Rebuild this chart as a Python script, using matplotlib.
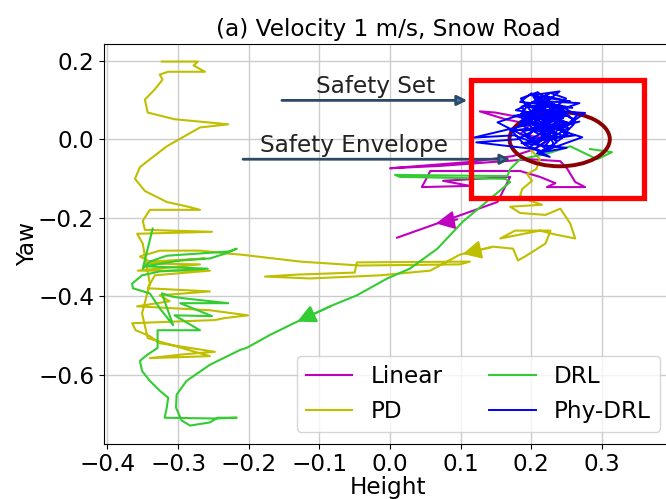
import matplotlib
matplotlib.use('Agg')
import matplotlib.pyplot as plt
from matplotlib.patches import Rectangle, Ellipse

# trajectories (height, yaw)
linear_x = [0.205, 0.184, 0.149, 0.127, 0.163, 0.198, 0.184, 0.227, 0.205, 0.174,
            0.113, 0.000, 0.071, 0.198, 0.241, 0.251, 0.262, 0.276, 0.222, 0.234,
            0.212, 0.184, 0.057, 0.045, 0.113, 0.075, 0.170, 0.152, 0.085, 0.010]
linear_y = [0.076, 0.056, 0.068, 0.071, 0.051, 0.038, 0.013, 0.000, -0.025, -0.043,
            -0.058, -0.074, -0.068, -0.051, -0.056, -0.076, -0.109, -0.122, -0.122, -0.112,
            -0.096, -0.081, -0.081, -0.122, -0.119, -0.106, -0.096, -0.160, -0.203, -0.251]

pd_x = [0.198, 0.212, 0.207, 0.194, 0.201, 0.187, 0.184, 0.198, 0.215, 0.170,
        0.184, 0.220, 0.241, 0.255, 0.262, 0.234, 0.212, 0.156, 0.177, 0.227,
        0.220, 0.191, 0.181, 0.174, 0.146, 0.099, 0.057, -0.014, -0.113, -0.177,
        -0.130, -0.050, -0.047, 0.113, 0.099, -0.042, -0.127, -0.212, -0.227,
        -0.269, -0.326, -0.354, -0.340, -0.262, -0.347, -0.269, -0.357, -0.255, -0.333,
        -0.343, -0.255, -0.326, -0.312, -0.358, -0.255, -0.201, -0.234, -0.248, -0.365,
        -0.360, -0.340, -0.326, -0.248, -0.290, -0.340, -0.255, -0.343,
        -0.351, -0.340, -0.350, -0.358, -0.252, -0.347, -0.350, -0.340, -0.269, -0.286,
        -0.316, -0.347, -0.361, -0.354, -0.316, -0.269, -0.229, -0.305, -0.343, -0.347,
        -0.333, -0.322, -0.326, -0.314, -0.262, -0.278, -0.272, -0.323]
pd_y = [-0.025, -0.051, -0.076, -0.089, -0.106, -0.127, -0.144, -0.157, -0.167, -0.172,
        -0.188, -0.193, -0.177, -0.215, -0.253, -0.243, -0.233, -0.253, -0.233, -0.233,
        -0.266, -0.299, -0.309, -0.279, -0.274, -0.294, -0.335, -0.347, -0.355, -0.350,
        -0.345, -0.340, -0.314, -0.312, -0.319, -0.322, -0.312, -0.294, -0.292,
        -0.284, -0.284, -0.299, -0.312, -0.304, -0.317, -0.319, -0.335, -0.335, -0.347,
        -0.380, -0.388, -0.398, -0.413, -0.426, -0.436, -0.449, -0.456, -0.461, -0.469,
        -0.487, -0.502, -0.520, -0.542, -0.548, -0.558, -0.553, -0.507,
        -0.444, -0.368, -0.266, -0.241, -0.236, -0.231, -0.208, -0.180, -0.180, -0.172,
        -0.160, -0.132, -0.101, -0.071, -0.018, 0.030, 0.038, 0.051, 0.068, 0.101,
        0.127, 0.152, 0.165, 0.172, 0.172, 0.188, 0.198, 0.198]

drl_x = [0.283, 0.314, 0.293, 0.255, 0.220, 0.184, 0.170, 0.166, 0.007, 0.014,
         0.163, 0.170, 0.113, 0.103, 0.067, 0.028, -0.004, -0.047, -0.081, -0.135,
         -0.170, -0.203, -0.212, -0.255, -0.288, -0.302, -0.303, -0.295, -0.283, -0.255,
         -0.244, -0.217, -0.248, -0.319, -0.316, -0.314, -0.326, -0.340, -0.351, -0.354,
         -0.344, -0.329, -0.329, -0.269, -0.305, -0.252, -0.297, -0.229, -0.290, -0.309,
         -0.323, -0.307, -0.326, -0.340, -0.364, -0.365, -0.351, -0.326, -0.258, -0.347,
         -0.297, -0.255, -0.234, -0.217, -0.227, -0.316, -0.340, -0.350, -0.336]
drl_y = [-0.025, -0.033, -0.051, -0.018, -0.038, -0.051, -0.076, -0.094, -0.091, -0.096,
         -0.101, -0.109, -0.195, -0.210, -0.279, -0.330, -0.355, -0.398, -0.423, -0.468,
         -0.499, -0.532, -0.537, -0.575, -0.616, -0.651, -0.684, -0.717, -0.730, -0.722,
         -0.710, -0.710, -0.712, -0.710, -0.684, -0.659, -0.641, -0.616, -0.591, -0.565,
         -0.550, -0.532, -0.487, -0.487, -0.449, -0.451, -0.418, -0.418, -0.406, -0.401,
         -0.393, -0.474, -0.431, -0.393, -0.380, -0.368, -0.347, -0.337, -0.330, -0.324,
         -0.309, -0.304, -0.292, -0.279, -0.286, -0.297, -0.312, -0.330, -0.228]

phy_x = [0.215, 0.228, 0.211, 0.236, 0.224, 0.245, 0.231, 0.208, 0.219, 0.197,
         0.212, 0.189, 0.204, 0.226, 0.214, 0.238, 0.252, 0.233, 0.246, 0.222,
         0.199, 0.213, 0.186, 0.202, 0.118, 0.176, 0.208, 0.229, 0.217, 0.241,
         0.258, 0.236, 0.249, 0.227, 0.205, 0.221, 0.196, 0.183, 0.207, 0.194,
         0.218, 0.232, 0.211, 0.243, 0.262, 0.240, 0.276, 0.254, 0.231, 0.219,
         0.236, 0.214, 0.191, 0.172, 0.195, 0.216, 0.203, 0.228, 0.209, 0.185,
         0.200, 0.223, 0.247, 0.229, 0.253, 0.238, 0.214, 0.226, 0.201, 0.219,
         0.188, 0.206, 0.152, 0.190, 0.213, 0.235, 0.219, 0.242, 0.224, 0.260,
         0.244, 0.221, 0.233, 0.208, 0.226, 0.198, 0.215, 0.237, 0.250, 0.231,
         0.206, 0.222, 0.184, 0.200, 0.218, 0.196, 0.230, 0.212, 0.248, 0.265,
         0.239, 0.220, 0.234, 0.205, 0.187, 0.210, 0.227, 0.204, 0.122, 0.181,
         0.209, 0.236, 0.219, 0.245, 0.226, 0.212, 0.232, 0.195, 0.217, 0.230,
         0.175, 0.232, 0.190, 0.258, 0.205, 0.268, 0.183, 0.244, 0.170, 0.228,
         0.198, 0.262, 0.186, 0.250, 0.210, 0.272, 0.192, 0.236, 0.178, 0.220,
         0.255, 0.200, 0.240, 0.185, 0.225, 0.268, 0.215, 0.190, 0.248, 0.205]
phy_y = [0.030, 0.052, 0.068, 0.044, 0.021, 0.037, 0.060, 0.048, 0.079, 0.062,
         0.036, 0.051, 0.024, 0.011, 0.043, 0.057, 0.029, 0.008, 0.073, 0.090,
         0.066, 0.101, 0.083, 0.040, 0.004, 0.010, -0.012, 0.018, 0.047, 0.070,
         0.052, 0.085, 0.104, 0.118, 0.097, 0.112, 0.089, 0.058, 0.031, 0.005,
         -0.021, 0.012, 0.038, 0.026, 0.048, 0.071, 0.067, 0.040, 0.055, 0.027,
         -0.008, -0.030, -0.015, 0.022, 0.049, 0.075, 0.108, 0.093, 0.120, 0.104,
         0.070, 0.083, 0.059, 0.032, 0.016, -0.004, 0.013, 0.045, 0.061, 0.034,
         0.020, -0.006, 0.043, 0.066, 0.052, 0.078, 0.099, 0.081, 0.056, 0.038,
         0.009, 0.026, -0.018, -0.036, -0.045, -0.020, 0.007, 0.029, 0.012, 0.050,
         0.072, 0.088, 0.095, 0.117, 0.100, 0.064, 0.046, 0.024, 0.033, 0.061,
         0.087, 0.068, 0.044, 0.057, 0.035, 0.014, 0.003, -0.025, -0.008, 0.000,
         0.028, 0.041, 0.064, 0.053, 0.076, 0.055, 0.019, 0.046, 0.036, 0.050,
         0.060, 0.066, 0.086, 0.080, 0.098, 0.092, 0.040, 0.035, 0.022, 0.028,
         0.000, 0.010, -0.010, -0.022, -0.035, 0.005, 0.050, 0.058, 0.074, 0.110,
         0.096, 0.112, 0.122, 0.045, 0.030, 0.045, 0.018, 0.068, 0.060, 0.085]

# direction arrows on the trajectories: (tail, tip)
dir_arrows = [
    ((0.099, -0.203), (0.061, -0.216), 'm'),
    ((0.146, -0.274), (0.099, -0.294), 'y'),
    ((-0.081, -0.423), (-0.135, -0.468), '#33cc33'),
]

safety_set = (0.115, -0.150, 0.245, 0.300)    # x0, y0, width, height
envelope = (0.240, 0.000, 0.142, 0.138)       # cx, cy, width, height

fs = 16.7

fig = plt.figure(figsize=(6.66, 4.99), dpi=100)
ax = fig.add_axes([0.156, 0.111, 0.853, 0.801])

ax.plot(linear_x, linear_y, color='m', lw=1.5, label='Linear', zorder=2)
ax.plot(pd_x, pd_y, color='y', lw=1.5, label='PD', zorder=2)
ax.plot(drl_x, drl_y, color='#33cc33', lw=1.5, label='DRL', zorder=2)

for tail, tip, c in dir_arrows:
    ax.annotate('', xy=tip, xytext=tail,
                arrowprops=dict(arrowstyle='-|>', color=c, lw=1.5, mutation_scale=28),
                zorder=3)

ax.add_patch(Ellipse(envelope[:2], envelope[2], envelope[3], angle=0,
                     fill=False, ec='#8b0000', lw=2.8, zorder=2.5))
ax.plot(phy_x, phy_y, color='b', lw=1.4, label='Phy-DRL', zorder=3)
ax.add_patch(Rectangle(safety_set[:2], safety_set[2], safety_set[3],
                       fill=False, ec='red', lw=3.8, zorder=4))

# labels for safe set / envelope
ax.annotate('', xy=(0.113, 0.099), xytext=(-0.157, 0.099),
            arrowprops=dict(arrowstyle='-|>', fc='#3f7fb8', ec='#2c4a66', lw=2, mutation_scale=15))
ax.text(-0.021, 0.134, 'Safety Set', fontsize=fs, ha='center', va='center', color='#222222')
ax.annotate('', xy=(0.174, -0.051), xytext=(-0.212, -0.051),
            arrowprops=dict(arrowstyle='-|>', fc='#3f7fb8', ec='#2c4a66', lw=2, mutation_scale=15))
ax.text(-0.051, -0.015, 'Safety Envelope', fontsize=fs, ha='center', va='center', color='#222222')

ax.set_xlim(-0.405, 0.399)
ax.set_ylim(-0.776, 0.243)
ax.set_xticks([-0.4, -0.3, -0.2, -0.1, 0.0, 0.1, 0.2, 0.3])
ax.set_yticks([-0.6, -0.4, -0.2, 0.0, 0.2])
ax.tick_params(labelsize=fs)
ax.grid(True, color='#cccccc', lw=1)
ax.set_axisbelow(True)
ax.set_xlabel('Height', fontsize=fs, labelpad=0)
ax.set_ylabel('Yaw', fontsize=fs, labelpad=-1)
ax.set_title('(a) Velocity 1 m/s, Snow Road', fontsize=fs)
ax.legend(loc='lower right', ncol=2, fontsize=fs)

fig.savefig('out.png', dpi=100)
